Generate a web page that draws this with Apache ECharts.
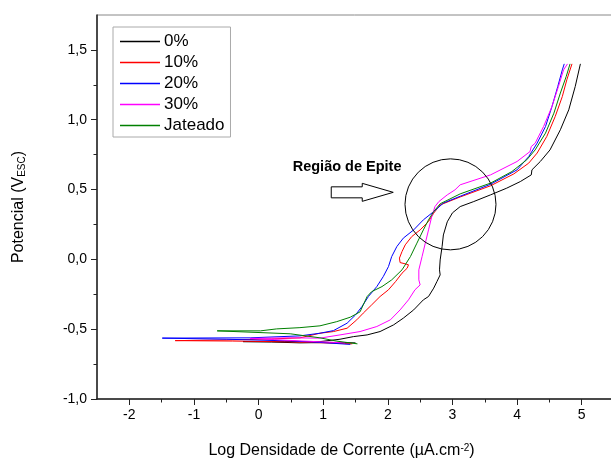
<!DOCTYPE html>
<html>
<head>
<meta charset="utf-8">
<script src="https://cdn.jsdelivr.net/npm/echarts@6/dist/echarts.min.js"></script>
<style>
  html, body { margin: 0; padding: 0; background: #fff; }
  #chart { width: 611px; height: 460px; }
</style>
</head>
<body>
<div id="chart"></div>
<script>
const FONT = "'Liberation Sans', Arial, sans-serif"

const SERIES_NAMES = ['0%', '10%', '20%', '30%', 'Jateado']
const SERIES_COLORS = ['#000000', '#ff0000', '#0000ff', '#ff00ff', '#008000']

// [log i, E] — varredura: ramo catódico -> Ecorr -> ramo anódico
const curve0 = [[1.50, -0.598], [1.10, -0.595], [0.64, -0.598], [0.20, -0.592], [-0.24, -0.589], [0.40, -0.589], [0.95, -0.589], [1.26, -0.572], [1.47, -0.553], [1.68, -0.541], [1.88, -0.517], [2.09, -0.469], [2.24, -0.421], [2.40, -0.362], [2.55, -0.290], [2.63, -0.266], [2.71, -0.206], [2.76, -0.159], [2.81, -0.111], [2.80, -0.075], [2.81, -0.004], [2.84, 0.092], [2.86, 0.175], [2.92, 0.269], [3.00, 0.333], [3.12, 0.378], [3.33, 0.414], [3.59, 0.462], [3.84, 0.510], [4.05, 0.557], [4.22, 0.605], [4.23, 0.641], [4.36, 0.701], [4.51, 0.784], [4.67, 0.928], [4.80, 1.071], [4.90, 1.238], [4.98, 1.400]]
const curve10 = [[1.45, -0.605], [1.00, -0.598], [0.49, -0.591], [-0.40, -0.585], [-1.29, -0.582], [-0.47, -0.577], [0.20, -0.570], [0.64, -0.562], [0.95, -0.529], [1.16, -0.517], [1.37, -0.493], [1.52, -0.433], [1.62, -0.385], [1.75, -0.326], [1.88, -0.266], [2.01, -0.218], [2.12, -0.159], [2.22, -0.099], [2.30, -0.063], [2.32, -0.039], [2.27, -0.032], [2.19, -0.023], [2.18, 0.009], [2.22, 0.056], [2.27, 0.104], [2.37, 0.163], [2.50, 0.211], [2.63, 0.271], [2.71, 0.331], [2.81, 0.390], [3.12, 0.447], [3.59, 0.527], [3.95, 0.612], [4.18, 0.689], [4.31, 0.761], [4.46, 0.880], [4.59, 1.023], [4.70, 1.166], [4.77, 1.286], [4.85, 1.400]]
const curve20 = [[1.42, -0.609], [0.95, -0.595], [0.49, -0.584], [-0.50, -0.572], [-1.49, -0.564], [-0.13, -0.562], [0.64, -0.548], [0.95, -0.529], [1.16, -0.510], [1.37, -0.457], [1.50, -0.398], [1.60, -0.338], [1.70, -0.266], [1.83, -0.195], [1.93, -0.123], [2.01, -0.052], [2.06, 0.020], [2.14, 0.092], [2.24, 0.152], [2.40, 0.211], [2.55, 0.283], [2.71, 0.342], [2.86, 0.403], [3.12, 0.452], [3.59, 0.538], [4.00, 0.641], [4.18, 0.736], [4.31, 0.832], [4.44, 0.951], [4.54, 1.094], [4.63, 1.238], [4.70, 1.357], [4.73, 1.400]]
const curve30 = [[1.34, -0.598], [0.64, -0.584], [0.25, -0.575], [-0.13, -0.566], [0.49, -0.562], [0.95, -0.564], [1.26, -0.541], [1.57, -0.517], [1.83, -0.481], [2.04, -0.433], [2.19, -0.362], [2.32, -0.290], [2.42, -0.218], [2.50, -0.183], [2.48, -0.147], [2.48, -0.075], [2.53, 0.020], [2.58, 0.116], [2.63, 0.211], [2.68, 0.307], [2.73, 0.378], [2.79, 0.414], [2.92, 0.462], [3.04, 0.498], [3.12, 0.534], [3.59, 0.605], [4.00, 0.701], [4.20, 0.772], [4.22, 0.808], [4.28, 0.832], [4.41, 0.951], [4.54, 1.094], [4.64, 1.238], [4.72, 1.357], [4.78, 1.400]]
const curveJat = [[1.53, -0.605], [1.20, -0.585], [0.95, -0.562], [0.49, -0.533], [-0.64, -0.512], [0.03, -0.512], [0.28, -0.498], [0.64, -0.489], [0.95, -0.476], [1.21, -0.446], [1.42, -0.414], [1.57, -0.376], [1.68, -0.266], [1.75, -0.231], [1.91, -0.195], [2.06, -0.147], [2.22, -0.075], [2.35, 0.020], [2.45, 0.116], [2.55, 0.211], [2.63, 0.283], [2.71, 0.342], [2.81, 0.398], [3.12, 0.469], [3.59, 0.546], [3.92, 0.629], [4.15, 0.713], [4.28, 0.784], [4.44, 0.904], [4.57, 1.047], [4.67, 1.191], [4.76, 1.309], [4.82, 1.400]]
const CURVES = [curve0, curve10, curve20, curve30, curveJat]

const X_TICKS = [-2, -1, 0, 1, 2, 3, 4, 5]
const X_MINOR = [-1.5, -0.5, 0.5, 1.5, 2.5, 3.5, 4.5]
const Y_TICKS = [-1, -0.5, 0, 0.5, 1, 1.5]
const Y_MINOR = [-0.75, -0.25, 0.25, 0.75, 1.25]

// anotação (coordenadas de dados)
const CIRCLE_CENTER = [2.97, 0.394]
const ARROW_TIP = [2.084, 0.48]
const LABEL_POS = [1.37, 0.663]

const AXIS_COLOR = '#222'

const chart = echarts.init(document.getElementById('chart'), null, { renderer: 'canvas' })

function majorAxis(extra) {
  return Object.assign({
    type: 'value',
    axisLine: { show: true, onZero: false, lineStyle: { color: AXIS_COLOR, width: 1.5 } },
    splitLine: { show: false },
  }, extra)
}

function minorAxis(extra) {
  return Object.assign({
    type: 'value',
    axisLine: { show: false, onZero: false },
    axisLabel: { show: false },
    splitLine: { show: false },
  }, extra)
}

chart.setOption({
  animation: false,
  backgroundColor: '#fff',
  textStyle: { fontFamily: FONT },
  grid: {
    left: 97, right: -3, top: 15, bottom: 61,
    outerBoundsMode: 'none', containLabel: false,
    show: true, borderColor: '#888', borderWidth: 1,
  },
  legend: {
    orient: 'vertical',
    left: 113,
    top: 27,
    padding: [6, 6, 3, 7],
    icon: 'rect',
    itemWidth: 40,
    itemHeight: 1.5,
    itemGap: 4,
    backgroundColor: '#fff',
    borderColor: '#aaa',
    borderWidth: 1,
    borderRadius: 0,
    textStyle: { fontSize: 17, color: '#000', fontFamily: FONT, padding: [0, 0, 0, -1] },
    data: SERIES_NAMES,
  },
  xAxis: [
    majorAxis({
      min: -2.5, max: 5.5, position: 'bottom',
      axisTick: { show: true, length: 6, customValues: X_TICKS, lineStyle: { color: AXIS_COLOR } },
      axisLabel: { customValues: X_TICKS, margin: 9, fontSize: 14, color: '#000', fontFamily: FONT },
      name: 'Log Densidade de Corrente (µA.cm{sup|-2})',
      nameLocation: 'middle',
      nameGap: 44,
      nameTextStyle: {
        fontSize: 16, color: '#000', fontFamily: FONT, padding: [0, 28, 0, 0],
        rich: { sup: { fontSize: 10, verticalAlign: 'top', color: '#000', fontFamily: FONT } },
      },
    }),
    minorAxis({
      min: -2.5, max: 5.5, position: 'bottom',
      axisTick: { show: true, length: 3.5, customValues: X_MINOR, lineStyle: { color: AXIS_COLOR } },
    }),
  ],
  yAxis: [
    majorAxis({
      min: -1, max: 1.75, position: 'left',
      axisTick: { show: true, length: 6, customValues: Y_TICKS, lineStyle: { color: AXIS_COLOR } },
      axisLabel: {
        customValues: Y_TICKS, margin: 10, fontSize: 14, color: '#000', fontFamily: FONT,
        formatter: v => v.toFixed(1).replace('.', ','),
      },
      name: 'Potencial (V{sub|ESC})',
      nameLocation: 'middle',
      nameGap: 70,
      nameTextStyle: {
        fontSize: 16, color: '#000', fontFamily: FONT,
        rich: { sub: { fontSize: 10, verticalAlign: 'bottom', color: '#000', fontFamily: FONT } },
      },
    }),
    minorAxis({
      min: -1, max: 1.75, position: 'left',
      axisTick: { show: true, length: 3.5, customValues: Y_MINOR, lineStyle: { color: AXIS_COLOR } },
    }),
  ],
  series: SERIES_NAMES.map((name, i) => ({
    name,
    type: 'line',
    xAxisIndex: 0,
    yAxisIndex: 0,
    symbol: 'none',
    color: SERIES_COLORS[i],
    lineStyle: { width: 1, color: SERIES_COLORS[i] },
    data: CURVES[i],
  })),
})

// círculo, seta e texto da "Região de Epite"
const finder = { xAxisIndex: 0, yAxisIndex: 0 }
const c = chart.convertToPixel(finder, CIRCLE_CENTER)
const tip = chart.convertToPixel(finder, ARROW_TIP)
const lbl = chart.convertToPixel(finder, LABEL_POS)
const tx = tip[0], ty = tip[1]

chart.setOption({
  graphic: [
    {
      type: 'circle', z: 100, silent: true,
      shape: { cx: c[0], cy: c[1], r: 45.5 },
      style: { fill: 'none', stroke: '#000', lineWidth: 1 },
    },
    {
      type: 'polygon', z: 100, silent: true,
      shape: {
        points: [
          [tx - 62, ty - 5.5], [tx - 31, ty - 5.5], [tx - 31, ty - 9], [tx, ty],
          [tx - 31, ty + 9], [tx - 31, ty + 5.5], [tx - 62, ty + 5.5],
        ],
      },
      style: { fill: '#fff', stroke: '#000', lineWidth: 1 },
    },
    {
      type: 'text', z: 100, silent: true,
      x: lbl[0], y: lbl[1],
      style: {
        text: 'Região de Epite', fontSize: 14.5, fontWeight: 'bold', fontFamily: FONT,
        fill: '#000', align: 'center', verticalAlign: 'middle',
      },
    },
  ],
})
</script>
</body>
</html>
